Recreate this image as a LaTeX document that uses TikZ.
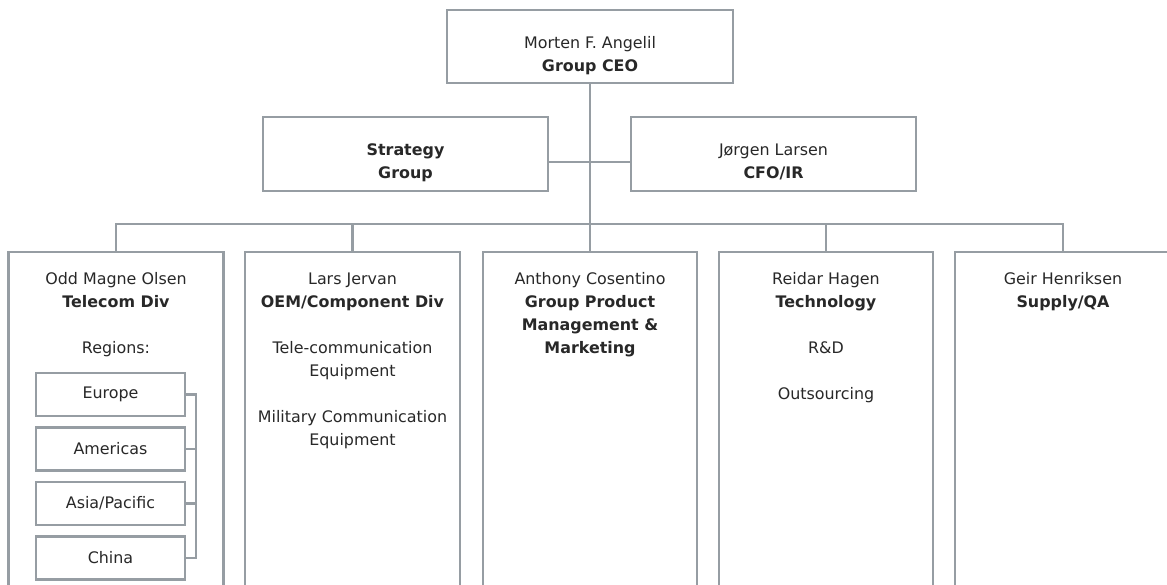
\documentclass[tikz,border=0pt]{standalone}
\usepackage{fontspec}
\setmainfont{DejaVu Sans}
\definecolor{linec}{RGB}{150,157,163}
\definecolor{txtc}{RGB}{40,40,40}
\newcommand\fs{\fontsize{15.9}{23}\selectfont}
\tikzset{
  box/.style={draw=linec, line width=2.9pt, rectangle, inner sep=0pt, fill=white},
  lbl/.style={anchor=north, inner sep=0pt, align=center, font=\fs, text=txtc},
  reg/.style={box, minimum width=149pt, minimum height=43pt, font=\fs, text=txtc},
  conn/.style={draw=linec, line width=2.9pt}
}
\begin{document}
\begin{tikzpicture}[x=1pt,y=-1pt]
\useasboundingbox (0,0) rectangle (1167,584);
\clip (0,0) rectangle (1167,584);
\fill[white] (0,0) rectangle (1167,584);
% boxes
\node[box, minimum width=286pt, minimum height=73pt] (ceo) at (590,46.5) {};
\node[box, minimum width=285pt, minimum height=74pt] (strat) at (405.5,154) {};
\node[box, minimum width=285pt, minimum height=74pt] (cfo) at (773.5,154) {};
\node[box, minimum width=215pt, minimum height=348pt] (d1) at (116,426) {};
\node[box, minimum width=215pt, minimum height=348pt] (d2) at (352.5,426) {};
\node[box, minimum width=214pt, minimum height=348pt] (d3) at (590,426) {};
\node[box, minimum width=214pt, minimum height=348pt] (d4) at (826,426) {};
\node[box, minimum width=216pt, minimum height=348pt] (d5) at (1063,426) {};
% texts
\node[lbl] (tceo) at (590,32.4) {\strut Morten F. Angelil\\ \textbf{Group CEO}};
\node[lbl] (tstrat) at (405.5,139.4) {\strut\textbf{Strategy}\\ \textbf{Group}};
\node[lbl] (tcfo) at (773.5,139.4) {\strut Jørgen Larsen\\ \textbf{CFO/IR}};
\node[lbl] (t1) at (116,268.4) {\strut Odd Magne Olsen\\ \textbf{Telecom Div}\\[23pt] Regions:};
\node[lbl] (t2) at (352.5,268.4) {\strut Lars Jervan\\ \textbf{OEM/Component Div}\\[23pt] Tele-communication\\ Equipment\\[23pt] Military Communication\\ Equipment};
\node[lbl] (t3) at (590,268.4) {\strut Anthony Cosentino\\ \textbf{Group Product}\\ \textbf{Management \&}\\ \textbf{Marketing}};
\node[lbl] (t4) at (826,268.4) {\strut Reidar Hagen\\ \textbf{Technology}\\[23pt] R\&D\\[23pt] Outsourcing};
\node[lbl] (t5) at (1063,268.4) {\strut Geir Henriksen\\ \textbf{Supply/QA}};
% region boxes
\node[reg] (eu) at (110.5,394.5) {Europe};
\node[reg] (am) at (110.5,449) {Americas};
\node[reg] (as) at (110.5,503.5) {Asia/Pacific};
\node[reg] (ch) at (110.5,558) {China};
% connectors
\coordinate (mid) at (590,162);
\coordinate (bus) at (590,224);
\coordinate (br) at (196,0);
\draw[conn] (ceo.south) -- (d3.north);
\draw[conn] (strat.east |- mid) -- (cfo.west |- mid);
\draw[conn] (d1.north) -- (d1.north |- bus) -- (d5.north |- bus) -- (d5.north);
\draw[conn] (d2.north) -- (d2.north |- bus);
\draw[conn] (d4.north) -- (d4.north |- bus);
\draw[conn] (eu.east) -- (eu.east -| br) -- (ch.east -| br) -- (ch.east);
\draw[conn] (am.east) -- (am.east -| br);
\draw[conn] (as.east) -- (as.east -| br);
\end{tikzpicture}
\end{document}
